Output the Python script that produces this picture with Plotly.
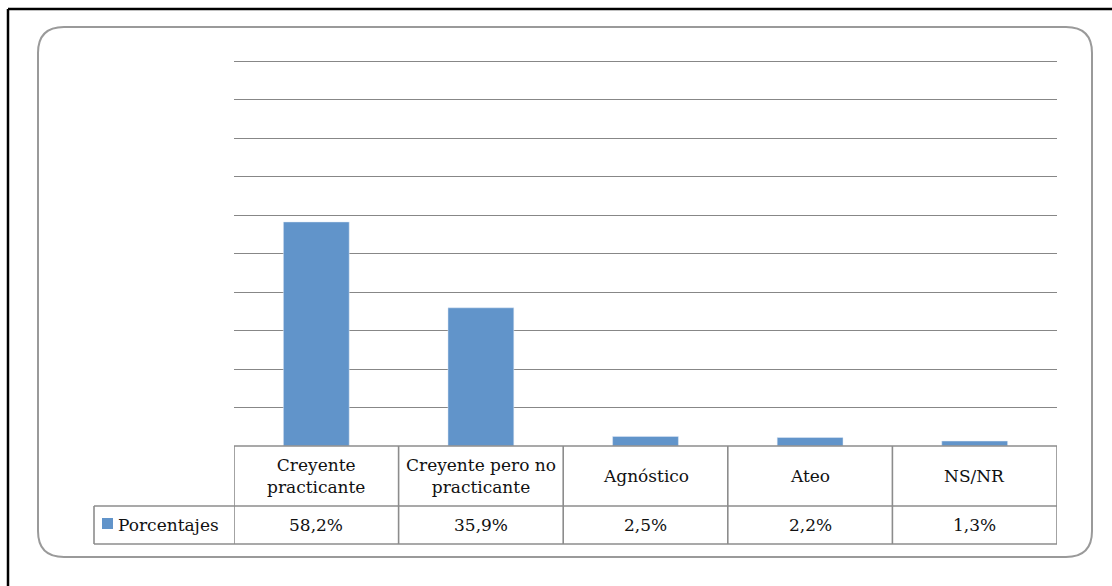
import plotly.graph_objects as go

categorias = ["Creyente<br>practicante", "Creyente pero no<br>practicante", "Agnóstico", "Ateo", "NS/NR"]
porcentajes = [58.2, 35.9, 2.5, 2.2, 1.3]
etiquetas = ["58,2%", "35,9%", "2,5%", "2,2%", "1,3%"]
serie = "Porcentajes"

W, H = 1112, 586
BAR = "#6194CA"
GRID = "#878787"
LINE = "#8C8C8C"
FONT = dict(family="DejaVu Serif", size=17, color="#111")

# plot area in pixels: y=0 at 446px, y=100 at 61px
Y_MAX = 101
PX_PER_UNIT = (446 - 61) / 100


def px(x):
    return x / W


def py(y):
    return 1 - y / H


fig = go.Figure()
xs = list(range(len(categorias)))
fig.add_trace(go.Bar(x=xs, y=porcentajes, marker_color=BAR, width=0.4, name=serie))

shapes = []
# outer black frame (top and left only)
shapes.append(dict(type="line", xref="paper", yref="paper", x0=px(8), x1=1, y0=py(9), y1=py(9),
                   line=dict(color="black", width=2.5)))
shapes.append(dict(type="line", xref="paper", yref="paper", x0=px(8), x1=px(8), y0=py(9), y1=0,
                   line=dict(color="black", width=2.5)))

# rounded chart area
l, t, r, b, rad = 38, 27, 1092, 557, 26
path = (f"M {px(l + rad)},{py(t)} L {px(r - rad)},{py(t)} Q {px(r)},{py(t)} {px(r)},{py(t + rad)} "
        f"L {px(r)},{py(b - rad)} Q {px(r)},{py(b)} {px(r - rad)},{py(b)} "
        f"L {px(l + rad)},{py(b)} Q {px(l)},{py(b)} {px(l)},{py(b - rad)} "
        f"L {px(l)},{py(t + rad)} Q {px(l)},{py(t)} {px(l + rad)},{py(t)} Z")
shapes.append(dict(type="path", xref="paper", yref="paper", path=path,
                   line=dict(color="#9A9A9A", width=2)))

# data table
y_top, y_mid, y_bot = py(446), py(506), py(544)
x_first, x_last = -0.5, len(categorias) - 0.5
tl = dict(color=LINE, width=1.6)
shapes.append(dict(type="line", xref="x", yref="paper", x0=x_first, x1=x_last, y0=y_top, y1=y_top, line=tl))
for yy in (y_mid, y_bot):
    shapes.append(dict(type="line", xref="paper", yref="paper", x0=px(94), x1=px(1057), y0=yy, y1=yy, line=tl))
shapes.append(dict(type="line", xref="paper", yref="paper", x0=px(94), x1=px(94), y0=y_mid, y1=y_bot, line=tl))
for i in range(len(categorias) + 1):
    shapes.append(dict(type="line", xref="x", yref="paper", x0=i - 0.5, x1=i - 0.5,
                       y0=y_top, y1=y_bot, line=tl))
# legend key
shapes.append(dict(type="rect", xref="paper", yref="paper", x0=px(102), x1=px(113), y0=py(529), y1=py(518),
                   fillcolor=BAR, line=dict(width=0)))

annotations = []
for i, (c, e) in enumerate(zip(categorias, etiquetas)):
    annotations.append(dict(x=i, y=py(476), xref="x", yref="paper", text=c, showarrow=False,
                            font=FONT, align="center", yanchor="middle"))
    annotations.append(dict(x=i, y=py(525), xref="x", yref="paper", text=e, showarrow=False,
                            font=FONT, yanchor="middle"))
annotations.append(dict(x=px(116), y=py(525), xref="paper", yref="paper", text=serie, showarrow=False,
                        font=FONT, xanchor="left", yanchor="middle"))

fig.update_layout(
    width=W, height=H,
    margin=dict(l=0, r=0, t=0, b=0),
    paper_bgcolor="white", plot_bgcolor="white",
    showlegend=False,
    xaxis=dict(domain=[px(234), px(1057)], range=[-0.5, len(categorias) - 0.5],
               showticklabels=False, showgrid=False, zeroline=False, showline=False, ticks=""),
    yaxis=dict(domain=[py(446), py(446 - Y_MAX * PX_PER_UNIT)], range=[0, Y_MAX], tick0=0, dtick=10,
               showticklabels=False, showgrid=True, gridcolor=GRID, gridwidth=1.4,
               zeroline=False, showline=False, ticks=""),
    shapes=shapes,
    annotations=annotations,
)

fig.write_html("out.html", config={"displayModeBar": False},
               post_script="document.body.style.margin='0';")
